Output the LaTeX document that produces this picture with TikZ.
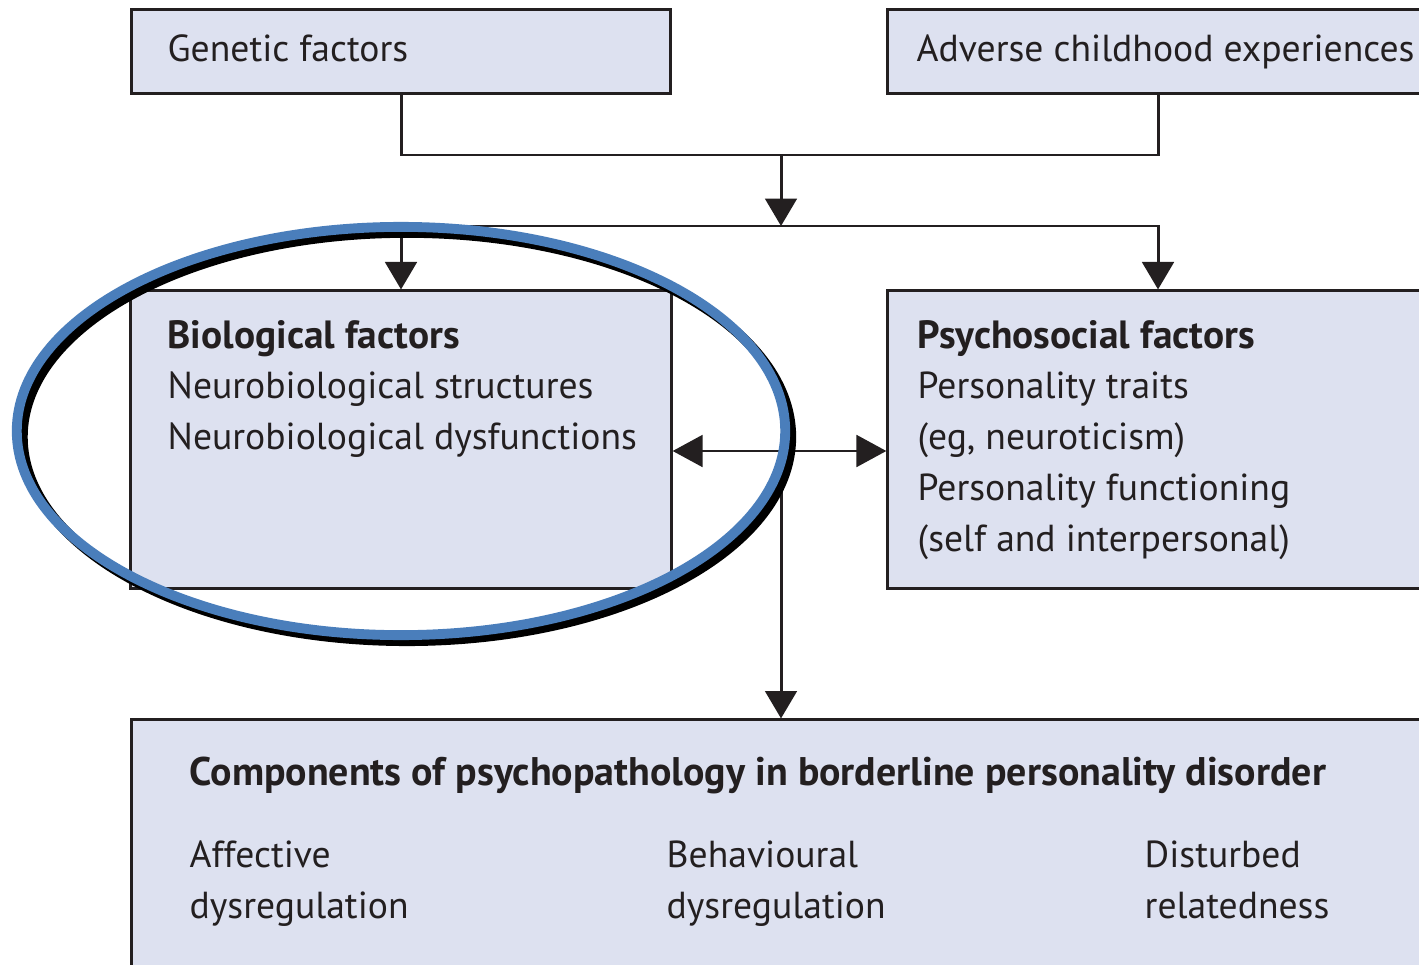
\documentclass[tikz,border=0pt]{standalone}
\usepackage{fontspec}
\setmainfont{PT Sans}
\usetikzlibrary{arrows.meta}
\definecolor{boxfill}{HTML}{DDE1F0}
\definecolor{ink}{HTML}{231F20}
\definecolor{ringblue}{HTML}{4A7EBB}
\newcommand{\boxfont}{\fontsize{10.7}{14.5}\selectfont}
\newcommand{\headfont}{\fontsize{11.2}{14.5}\selectfont\bfseries}
\newcommand{\titlefont}{\fontsize{11.35}{14.5}\selectfont\bfseries}
% stacked lines whose baseline is that of the first line
\newcommand{\stack}[1]{\begin{tabular}[t]{@{}l@{}}#1\end{tabular}}
\begin{document}
\begin{tikzpicture}[x=0.01cm,y=-0.01cm,
  panel/.style={draw=ink, fill=boxfill, line width=0.85pt, inner sep=0pt},
  label/.style={anchor=base west, inner sep=0pt, text=ink, font=\boxfont},
  link/.style={draw=ink, line width=0.85pt},
  arr/.style={link, -{Triangle[length=7.8pt,width=9pt]}},
  darr/.style={link, {Triangle[length=8.5pt,width=9pt]}-{Triangle[length=8.5pt,width=9pt]}}]
\useasboundingbox (0,0) rectangle (1419,964);
\clip (0,0) rectangle (1419,964);
\fill[white] (0,0) rectangle (1419,964);

% boxes
\node[panel, minimum width=5.38cm, minimum height=0.83cm] (gen) at (401,51.5) {};
\node[panel, minimum width=5.40cm, minimum height=0.83cm] (adv) at (1158,51.5) {};
\node[panel, minimum width=5.40cm, minimum height=2.97cm] (bio) at (401,439.5) {};
\node[panel, minimum width=5.40cm, minimum height=2.97cm] (psy) at (1158,439.5) {};
\node[panel, minimum width=12.98cm, minimum height=2.80cm] (comp) at (781,860) {};

% box texts
\node[label] (gent) at (167,62) {Genetic factors};
\node[label] (advt) at (916,62) {Adverse childhood experiences};
\node[label] (biot) at (167,348) {\stack{{\headfont Biological factors}\\Neurobiological structures\\Neurobiological dysfunctions}};
\node[label] (psyt) at (917,348) {\stack{{\headfont Psychosocial factors}\\Personality traits\\(eg, neuroticism)\\Personality functioning\\(self and interpersonal)}};
\node[label, font=\titlefont] (compt) at (189,785) {Components of psychopathology in borderline personality disorder};
\node[label] (c1) at (189,867) {\stack{Affective\\dysregulation}};
\node[label] (c2) at (666,867) {\stack{Behavioural\\dysregulation}};
\node[label] (c3) at (1144,867) {\stack{Disturbed\\relatedness}};

% connectors
\coordinate (join) at (781,155);
\coordinate (split) at (781,226);
\coordinate (cross) at (781,451);
\draw[link] (gen.south) |- (join) -| (adv.south);
\draw[arr] (join) -- (split);
\draw[arr] (split) -| (bio.north);
\draw[arr] (split) -| (psy.north);
\draw[darr] (bio.east |- cross) -- (psy.west |- cross);
\draw[arr] (cross) -- (comp.north);

% highlight ring with offset shadow
\draw[black, line width=2.8pt] (407,437) ellipse [x radius=3.84cm, y radius=2.04cm];
\draw[ringblue, line width=2.8pt] (401,431) ellipse [x radius=3.84cm, y radius=2.04cm];
\end{tikzpicture}
\end{document}
